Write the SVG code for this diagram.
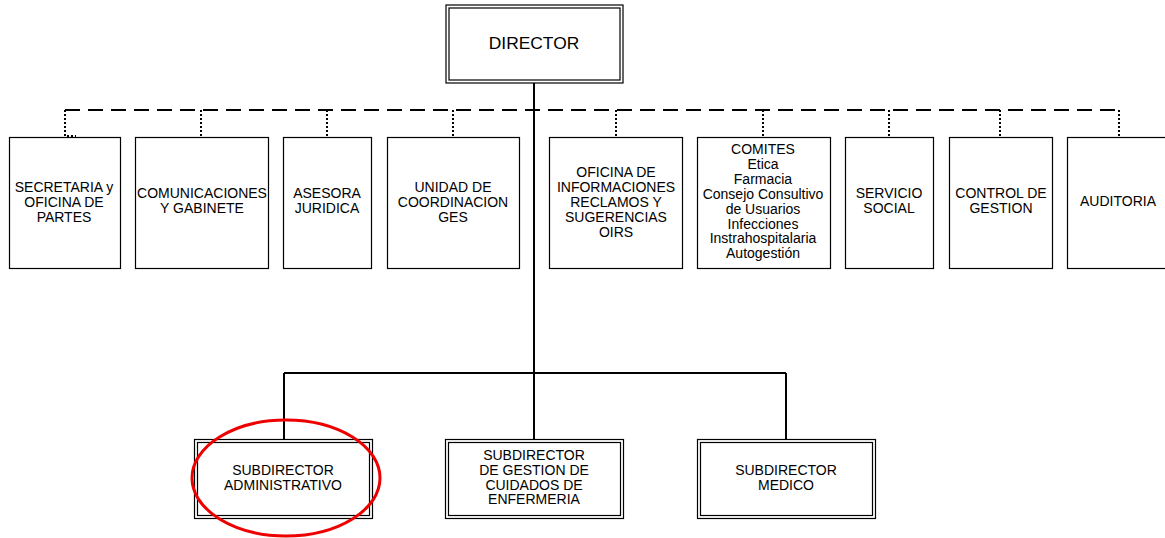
<svg xmlns="http://www.w3.org/2000/svg" width="1165" height="538" viewBox="0 0 1165 538">
<style>
.box{fill:#fff;stroke:#000;stroke-width:1.2}
.t{font-family:"Liberation Sans",Arial,sans-serif;font-size:14px;fill:#000;text-anchor:middle}
.big{font-size:17.4px}
.solid{fill:none;stroke:#000;stroke-width:2}
.dash{fill:none;stroke:#000;stroke-width:2;stroke-dasharray:15 8}
.dot{fill:none;stroke:#000;stroke-width:2;stroke-dasharray:2 2}
</style>
<rect width="1165" height="538" fill="#fff"/>
<g id="connectors">
<path class="solid" d="M534 83V373M284 373H786M284 373V439M534 373V439M786 373V439"/>
<path class="dash" d="M65 110H1119"/>
<path class="dot" d="M65 110V136H76M201 110V137M327 110V137M453 110V137M616 110V137M763 110V137M889 110V137M1000 110V137M1119 110V137"/>
</g>
<g id="director">
<rect class="box" x="446" y="5" width="177" height="78"/>
<rect class="box" x="449" y="8" width="171" height="72"/>
<text class="t big" x="534" y="49">DIRECTOR</text>
</g>
<g id="secretaria">
<rect class="box" x="9.5" y="137.5" width="111" height="131"/>
<text class="t" x="64" y="192">SECRETARIA y</text>
<text class="t" x="64" y="207">OFICINA DE</text>
<text class="t" x="64" y="222">PARTES</text>
</g>
<g id="comunicaciones">
<rect class="box" x="135.5" y="137.5" width="133" height="131"/>
<text class="t" x="202" y="198">COMUNICACIONES</text>
<text class="t" x="202" y="213">Y GABINETE</text>
</g>
<g id="asesora">
<rect class="box" x="283.5" y="137.5" width="88" height="131"/>
<text class="t" x="327" y="198">ASESORA</text>
<text class="t" x="327" y="213">JURIDICA</text>
</g>
<g id="unidad">
<rect class="box" x="387.5" y="137.5" width="132" height="131"/>
<text class="t" x="453" y="192">UNIDAD DE</text>
<text class="t" x="453" y="207">COORDINACION</text>
<text class="t" x="453" y="222">GES</text>
</g>
<g id="oirs">
<rect class="box" x="549.5" y="137.5" width="133" height="131"/>
<text class="t" x="616" y="177">OFICINA DE</text>
<text class="t" x="616" y="192">INFORMACIONES</text>
<text class="t" x="616" y="207">RECLAMOS Y</text>
<text class="t" x="616" y="222">SUGERENCIAS</text>
<text class="t" x="616" y="237">OIRS</text>
</g>
<g id="comites">
<rect class="box" x="697.5" y="137.5" width="133" height="131"/>
<text class="t" x="763" y="154">COMITES</text>
<text class="t" x="763" y="169">Etica</text>
<text class="t" x="763" y="183.5">Farmacia</text>
<text class="t" x="763" y="198.5">Consejo Consultivo</text>
<text class="t" x="763" y="213.5">de Usuarios</text>
<text class="t" x="763" y="228.5">Infecciones</text>
<text class="t" x="763" y="243">Instrahospitalaria</text>
<text class="t" x="763" y="258">Autogestión</text>
</g>
<g id="servicio">
<rect class="box" x="845.5" y="137.5" width="88" height="131"/>
<text class="t" x="889" y="198">SERVICIO</text>
<text class="t" x="889" y="213">SOCIAL</text>
</g>
<g id="control">
<rect class="box" x="949.5" y="137.5" width="103" height="131"/>
<text class="t" x="1001" y="198">CONTROL DE</text>
<text class="t" x="1001" y="213">GESTION</text>
</g>
<g id="auditoria">
<rect class="box" x="1067.5" y="137.5" width="110" height="131"/>
<text class="t" x="1118" y="206">AUDITORIA</text>
</g>
<g id="sub-admin">
<rect class="box" x="194.5" y="439.5" width="178" height="79"/>
<rect class="box" x="197.5" y="442.5" width="172" height="73"/>
<text class="t" x="283" y="475">SUBDIRECTOR</text>
<text class="t" x="283" y="490">ADMINISTRATIVO</text>
</g>
<g id="sub-enfermeria">
<rect class="box" x="445.5" y="439.5" width="178" height="79"/>
<rect class="box" x="448.5" y="442.5" width="172" height="73"/>
<text class="t" x="534" y="460">SUBDIRECTOR</text>
<text class="t" x="534" y="475">DE GESTION DE</text>
<text class="t" x="534" y="490">CUIDADOS DE</text>
<text class="t" x="534" y="504">ENFERMERIA</text>
</g>
<g id="sub-medico">
<rect class="box" x="697.5" y="439.5" width="178" height="79"/>
<rect class="box" x="700.5" y="442.5" width="172" height="73"/>
<text class="t" x="786" y="475">SUBDIRECTOR</text>
<text class="t" x="786" y="490">MEDICO</text>
</g>
<g id="highlight">
<ellipse cx="286" cy="478" rx="94" ry="58" fill="none" stroke="#e00" stroke-width="3"/>
</g>
</svg>
